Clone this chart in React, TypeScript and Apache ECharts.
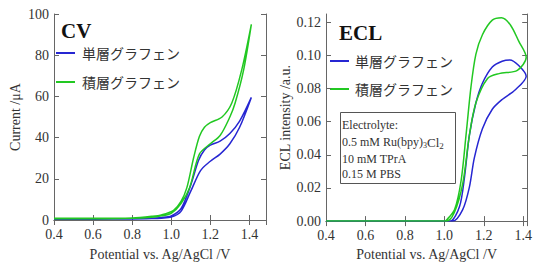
import React, { useEffect, useRef } from "react";
import * as echarts from "echarts";

// ---- CV data (Current / µA vs Potential / V) ----
const cvBlueFwdX = [0.4, 0.6, 0.8, 0.9, 0.95, 1.0, 1.05, 1.1, 1.15, 1.2, 1.25, 1.3, 1.35, 1.41];
const cvBlueFwdY = [0.4, 0.4, 0.5, 0.7, 0.9, 1.4, 4.2, 14.0, 24.0, 28.5, 32.0, 37.0, 45.0, 59.5];
const cvBlueRevX = [1.41, 1.35, 1.3, 1.25, 1.2, 1.17, 1.14, 1.1, 1.05, 1.0, 0.95, 0.9, 0.8, 0.6, 0.4];
const cvBlueRevY = [59.5, 48.0, 42.0, 38.3, 36.3, 34.0, 29.0, 17.0, 5.5, 2.0, 1.2, 0.9, 0.6, 0.5, 0.5];
const cvGreenFwdX = [0.4, 0.6, 0.8, 0.9, 0.95, 1.0, 1.05, 1.094, 1.144, 1.2, 1.25, 1.3, 1.327, 1.37, 1.41];
const cvGreenFwdY = [0.6, 0.6, 0.8, 1.3, 2.0, 3.2, 8.0, 15.7, 32.0, 37.0, 41.0, 50.0, 56.8, 72.6, 95.0];
const cvGreenRevX = [1.41, 1.36, 1.31, 1.26, 1.2, 1.17, 1.144, 1.114, 1.08, 1.05, 1.012, 0.95, 0.9, 0.8, 0.6, 0.4];
const cvGreenRevY = [95.0, 72.6, 56.8, 50.0, 47.3, 45.0, 40.5, 30.0, 15.7, 9.0, 4.7, 2.5, 1.8, 1.0, 0.8, 0.8];

// ---- ECL data (intensity / a.u. vs Potential / V) ----
const eclBlueFwdX = [0.4, 0.8, 1.0, 1.03, 1.077, 1.102, 1.127, 1.16, 1.193, 1.243, 1.293, 1.332, 1.377, 1.415];
const eclBlueFwdY = [0, 0, 0, 0, 0.0088, 0.0264, 0.0519, 0.0714, 0.0832, 0.093, 0.0965, 0.0973, 0.0939, 0.0875];
const eclBlueRevX = [1.415, 1.36, 1.293, 1.243, 1.193, 1.152, 1.127, 1.093, 1.043, 1.0, 0.8, 0.4];
const eclBlueRevY = [0.0875, 0.0793, 0.0734, 0.0675, 0.0558, 0.0382, 0.0205, 0.0069, 0, 0, 0, 0];
const eclGreenFwdX = [0.4, 0.8, 1.0, 1.01, 1.052, 1.085, 1.11, 1.135, 1.16, 1.193, 1.243, 1.29, 1.335, 1.377, 1.415];
const eclGreenFwdY = [0, 0, 0, 0.0005, 0.007, 0.0245, 0.052, 0.081, 0.1008, 0.1125, 0.1213, 0.1227, 0.1184, 0.1086, 0.0989];
const eclGreenRevX = [1.415, 1.37, 1.277, 1.219, 1.16, 1.127, 1.093, 1.05, 1.01, 0.8, 0.4];
const eclGreenRevY = [0.0989, 0.091, 0.089, 0.0861, 0.0714, 0.0519, 0.0225, 0.005, 0, 0, 0];

// ---- text ----
const seriesNames = ["単層グラフェン", "積層グラフェン"];
const xAxisTitle = "Potential vs. Ag/AgCl /V";
const cvYTitle = "Current /μA";
const eclYTitle = "ECL intensity /a.u.";
const electrolyteLines = ["Electrolyte:", "0.5 mM Ru(bpy)", "10 mM TPrA", "0.15 M PBS"];

const BLUE = "#2626d2";
const GREEN = "#22c822";
const FRAME = "#666666";
const TEXT = "#333333";
const SERIF = '"Liberation Serif", "Times New Roman", serif';
const JP = '"Noto Sans CJK JP", "Noto Sans", sans-serif';

function zip(xs: number[], ys: number[]) {
  return xs.map((x, i) => [x, ys[i]]);
}

function measure(text: string, size: number) {
  const c = document.createElement("canvas").getContext("2d")!;
  c.font = `${size}px "Liberation Serif"`;
  return c.measureText(text).width;
}

export default function App() {
  const ref = useRef<HTMLDivElement>(null);
  useEffect(() => {
    if (!ref.current) return;
    const chart = echarts.init(ref.current, undefined, { renderer: "svg" });

    const tickInside = { show: true, inside: true, length: 5, lineStyle: { color: FRAME } };
    const line = { show: true, lineStyle: { color: FRAME, width: 1 } };

    const xBottom = (gi: number, max: number, gap: number) => ({
      type: "value", gridIndex: gi, min: 0.4, max, interval: 0.2, position: "bottom",
      axisLine: line, axisTick: tickInside, splitLine: { show: false },
      axisLabel: { color: TEXT, fontFamily: SERIF, fontSize: 14, margin: 7, showMaxLabel: false,
        formatter: (v: number) => v.toFixed(1) },
      name: xAxisTitle, nameLocation: "middle", nameGap: gap,
      nameTextStyle: { color: TEXT, fontFamily: SERIF, fontSize: 14 },
    });
    const xTop = (gi: number, max: number) => ({
      type: "value", gridIndex: gi, min: 0.4, max, interval: 0.2, position: "top",
      axisLine: line, axisTick: tickInside, splitLine: { show: false }, axisLabel: { show: false },
    });
    const yLeft = (gi: number, max: number, interval: number, digits: number, name: string, gap: number) => ({
      type: "value", gridIndex: gi, min: 0, max, interval, position: "left",
      axisLine: line, axisTick: tickInside, splitLine: { show: false },
      axisLabel: { color: TEXT, fontFamily: SERIF, fontSize: 14, margin: 5, showMaxLabel: max % interval === 0,
        formatter: (v: number) => v.toFixed(digits) },
      name, nameLocation: "middle", nameGap: gap,
      nameTextStyle: { color: TEXT, fontFamily: SERIF, fontSize: 14 },
    });
    const yRight = (gi: number, max: number, interval: number) => ({
      type: "value", gridIndex: gi, min: 0, max, interval, position: "right",
      axisLine: line, axisTick: tickInside, splitLine: { show: false }, axisLabel: { show: false },
    });

    const mk = (name: string, color: string, data: number[][], xi: number, yi: number) => ({
      type: "line", name, data, xAxisIndex: xi, yAxisIndex: yi, showSymbol: false, smooth: 0.3,
      lineStyle: { color, width: 1.5 }, itemStyle: { color }, clip: true,
    });

    const cvBlue = [...zip(cvBlueFwdX, cvBlueFwdY), ...zip(cvBlueRevX, cvBlueRevY).slice(1)];
    const cvGreen = [...zip(cvGreenFwdX, cvGreenFwdY), ...zip(cvGreenRevX, cvGreenRevY).slice(1)];
    const eclBlue = [...zip(eclBlueFwdX, eclBlueFwdY), ...zip(eclBlueRevX, eclBlueRevY).slice(1)];
    const eclGreen = [...zip(eclGreenFwdX, eclGreenFwdY), ...zip(eclGreenRevX, eclGreenRevY).slice(1)];

    const legend = (x0: number, y1: number, y2: number, tx: number) => [
      { type: "line", shape: { x1: x0, y1, x2: x0 + 19, y2: y1 }, style: { stroke: BLUE, lineWidth: 2 } },
      { type: "text", x: tx, y: y1, style: { text: seriesNames[0], font: `14px ${JP}`, fill: TEXT, textVerticalAlign: "middle" } },
      { type: "line", shape: { x1: x0, y1: y2, x2: x0 + 19, y2 }, style: { stroke: GREEN, lineWidth: 2 } },
      { type: "text", x: tx, y: y2, style: { text: seriesNames[1], font: `14px ${JP}`, fill: TEXT, textVerticalAlign: "middle" } },
    ];

    const bx = 342;
    const fs = 12;
    const w1 = measure(electrolyteLines[1], fs);
    const wCl = measure("Cl", fs + 1);
    const wSub = measure("3", 8);
    const boxText: any[] = [
      { type: "rect", shape: { x: 340.5, y: 112.5, width: 115, height: 71 }, style: { fill: "#fff", stroke: "#555", lineWidth: 1 } },
      { type: "text", x: bx, y: 125, style: { text: electrolyteLines[0], font: `${fs}px ${SERIF}`, fill: TEXT, textVerticalAlign: "middle" } },
      { type: "text", x: bx, y: 142, style: { text: electrolyteLines[1], font: `${fs}px ${SERIF}`, fill: TEXT, textVerticalAlign: "middle" } },
      { type: "text", x: bx + w1, y: 145.5, style: { text: "3", font: `8px ${SERIF}`, fill: TEXT, textVerticalAlign: "middle" } },
      { type: "text", x: bx + w1 + wSub, y: 142, style: { text: "Cl", font: `${fs + 1}px ${SERIF}`, fill: TEXT, textVerticalAlign: "middle" } },
      { type: "text", x: bx + w1 + wSub + wCl, y: 146, style: { text: "2", font: `9px ${SERIF}`, fill: TEXT, textVerticalAlign: "middle" } },
      { type: "text", x: bx, y: 159, style: { text: electrolyteLines[2], font: `${fs}px ${SERIF}`, fill: TEXT, textVerticalAlign: "middle" } },
      { type: "text", x: bx, y: 174, style: { text: electrolyteLines[3], font: `${fs}px ${SERIF}`, fill: TEXT, textVerticalAlign: "middle" } },
    ];

    chart.setOption({
      animation: false,
      backgroundColor: "#ffffff",
      grid: [
        { left: 54, top: 14, width: 212, height: 211 },
        { left: 326, top: 14, width: 206, height: 213 },
      ],
      xAxis: [xBottom(0, 1.485, 27), xTop(0, 1.485), xBottom(1, 1.42, 25), xTop(1, 1.42)],
      yAxis: [
        yLeft(0, 100, 20, 0, cvYTitle, 32), yRight(0, 100, 20),
        yLeft(1, 0.125, 0.02, 2, eclYTitle, 32), yRight(1, 0.125, 0.02),
      ],
      series: [
        mk(seriesNames[0], BLUE, cvBlue, 0, 0),
        mk(seriesNames[1], GREEN, cvGreen, 0, 0),
        mk(seriesNames[0], BLUE, eclBlue, 2, 2),
        mk(seriesNames[1], GREEN, eclGreen, 2, 2),
      ],
      graphic: [
        { type: "text", x: 61, y: 31, style: { text: "CV", font: `bold 21px ${SERIF}`, fill: "#111", textVerticalAlign: "middle" } },
        { type: "text", x: 339, y: 33, style: { text: "ECL", font: `bold 21px ${SERIF}`, fill: "#111", textVerticalAlign: "middle" } },
        ...legend(56, 53, 82, 82),
        ...legend(330, 61, 89, 355),
        ...boxText,
      ],
    } as any);
    return () => chart.dispose();
  }, []);
  return <div ref={ref} style={{ position: "fixed", left: 0, top: 0, width: 535, height: 266 }} />;
}
